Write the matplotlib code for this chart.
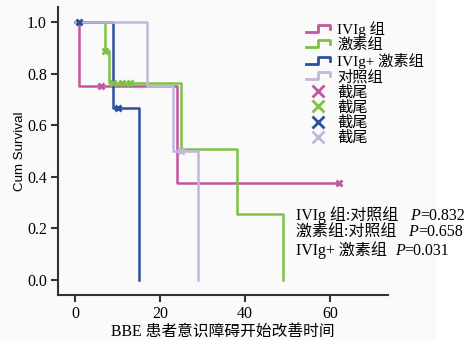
import matplotlib
matplotlib.use("Agg")
import matplotlib.pyplot as plt
from matplotlib.lines import Line2D
from matplotlib.patches import Rectangle
from matplotlib.legend_handler import HandlerBase

plt.rcParams['font.family'] = ['Liberation Serif', 'Noto Sans CJK SC']

# data
groups = ['IVIg 组', '激素组', 'IVIg+ 激素组', '对照组']
colors = ['#c2579f', '#7cc144', '#2c4fa1', '#c3b6dd']

ivig_t = [0, 1, 24, 62]
ivig_s = [1.0, 0.75, 0.375, 0.375]
ivig_ct = [6, 62]
ivig_cs = [0.75, 0.375]

horm_t = [0, 7, 8, 25, 38, 49]
horm_s = [1.0, 0.889, 0.762, 0.508, 0.254, 0.0]
horm_ct = [7, 9, 11, 13]
horm_cs = [0.889, 0.762, 0.762, 0.762]

combo_t = [0, 9, 15]
combo_s = [1.0, 0.667, 0.0]
combo_ct = [1, 10]
combo_cs = [1.0, 0.667]

ctrl_t = [0, 17, 23, 29]
ctrl_s = [1.0, 0.75, 0.5, 0.0]
ctrl_ct = [25]
ctrl_cs = [0.5]

p_names = ['IVIg 组:对照组   ', '激素组:对照组   ', 'IVIg+ 激素组  ']
p_vals = ['0.832', '0.658', '0.031']

xticks = [0, 20, 40, 60]
yticks = [0.0, 0.2, 0.4, 0.6, 0.8, 1.0]


class StepHandler(HandlerBase):
    def create_artists(self, legend, orig, xd, yd, w, h, fs, trans):
        x0 = -xd
        y0 = -yd
        xs = [x0, x0 + 0.5 * w, x0 + 0.5 * w, x0 + w, x0 + w]
        ys = [y0 + 0.2 * h, y0 + 0.2 * h, y0 + 0.85 * h, y0 + 0.85 * h, y0 + 0.45 * h]
        ln = Line2D(xs, ys, color=orig.get_color(), lw=2, transform=trans)
        return [ln]


fig = plt.figure(figsize=(4.67, 3.45), dpi=100)
fig.patch.set_facecolor('white')
fig.patches.append(Rectangle((0, 5 / 345), 436 / 467, 340 / 345, transform=fig.transFigure,
                             facecolor='#fafafa', edgecolor='none', zorder=-10))

ax = fig.add_axes([58 / 467, 50 / 345, 330 / 467, 288 / 345])
ax.patch.set_alpha(0)

all_t = [ivig_t, horm_t, combo_t, ctrl_t]
all_s = [ivig_s, horm_s, combo_s, ctrl_s]
all_ct = [ivig_ct, horm_ct, combo_ct, ctrl_ct]
all_cs = [ivig_cs, horm_cs, combo_cs, ctrl_cs]

step_handles = []
cens_handles = []
order = [3, 0, 1, 2]
for i in order:
    ax.step(all_t[i], all_s[i], where='post', color=colors[i], lw=1.8, zorder=2 + i)
    ax.plot(all_ct[i], all_cs[i], 'x', color=colors[i], ms=5, mew=2, zorder=6)
for i in range(4):
    step_handles.append(Line2D([], [], color=colors[i], lw=2))
    cens_handles.append(Line2D([], [], color=colors[i], ls='none', marker='x', ms=8, mew=2))

ax.set_xlim(-4, 73.6)
ax.set_ylim(-0.058, 1.058)
ax.set_xticks(xticks)
ax.set_yticks(yticks)
ax.set_yticklabels(['%.1f' % v for v in yticks])
ax.spines['top'].set_visible(False)
ax.spines['right'].set_visible(False)
for sp in ['left', 'bottom']:
    ax.spines[sp].set_linewidth(1.5)
    ax.spines[sp].set_color('#333333')
ax.tick_params(direction='out', length=5, width=1.5, color='#333333', labelsize=11.5, pad=3)

ax.set_xlabel('BBE 患者意识障碍开始改善时间', fontsize=11.3, labelpad=2)
ax.set_ylabel('Cum Survival', family=['Liberation Sans'], fontsize=9.6)
ax.yaxis.set_label_coords(-0.098, 0.5)

leg = ax.legend(step_handles + cens_handles, groups + ['截尾'] * 4,
                handler_map={h: StepHandler() for h in step_handles},
                loc='upper left', bbox_to_anchor=(306 / 467, 1 - 21 / 345),
                bbox_transform=fig.transFigure, frameon=False, fontsize=11,
                handlelength=1.6, handletextpad=0.45, labelspacing=0.06,
                borderpad=0, borderaxespad=0)

for k in range(3):
    t1 = fig.text(296 / 467, 1 - (215 + 17.5 * k) / 345, p_names[k], fontsize=11.5,
                  va='center', ha='left')
    t2 = ax.annotate('P', xy=(1, 0), xycoords=t1, va='bottom', ha='left',
                     fontsize=11.5, style='italic')
    ax.annotate('=' + p_vals[k], xy=(1, 0), xycoords=t2, va='bottom', ha='left',
                fontsize=11.5)

fig.savefig('out.png', dpi=100)
